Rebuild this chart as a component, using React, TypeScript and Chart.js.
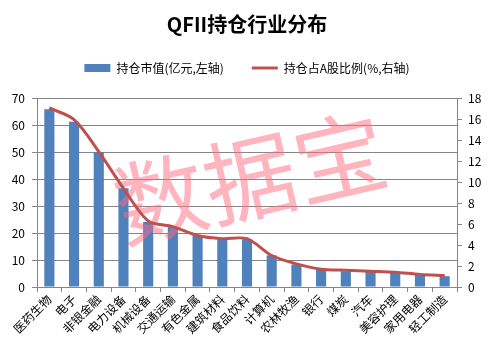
import React, { useEffect, useRef } from 'react';
import { Chart, registerables } from 'chart.js';

Chart.register(...registerables);

const categories = ['医药生物', '电子', '非银金融', '电力设备', '机械设备', '交通运输', '有色金属', '建筑材料', '食品饮料', '计算机', '农林牧渔', '银行', '煤炭', '汽车', '美容护理', '家用电器', '轻工制造'];
const marketValue = [65.8, 61.2, 50.0, 36.6, 24.1, 22.2, 19.1, 17.9, 17.7, 11.7, 8.3, 6.4, 5.8, 5.6, 5.2, 4.6, 4.0];
const shareRatio = [17.05, 15.95, 12.9, 9.4, 6.3, 5.75, 4.9, 4.6, 4.6, 3.0, 2.2, 1.7, 1.6, 1.5, 1.4, 1.2, 1.1];
const leftAxis = { min: 0, max: 70, step: 10 };
const rightAxis = { min: 0, max: 18, step: 2 };
const titleText = 'QFII持仓行业分布';
const barLabel = '持仓市值(亿元,左轴)';
const lineLabel = '持仓占A股比例(%,右轴)';
const watermarkText = '数据宝';

const FONT = '"Noto Sans CJK SC", "Noto Sans", sans-serif';
const GRID = '#868686';

const watermark = {
  id: 'watermark',
  beforeDatasetDraw(chart: any, args: any) {
    if (args.index !== 1) return;
    const ctx = chart.ctx;
    ctx.save();
    ctx.translate(250, 178);
    ctx.rotate((-13 * Math.PI) / 180);
    ctx.font = '400 92px ' + FONT;
    ctx.fillStyle = 'rgba(255, 105, 125, 0.5)';
    ctx.textAlign = 'center';
    ctx.textBaseline = 'middle';
    ctx.fillText(watermarkText, 0, 0);
    ctx.restore();
  },
};

export default function App() {
  const ref = useRef<HTMLCanvasElement>(null);
  useEffect(() => {
    document.body.style.margin = '0';
    const chart = new Chart(ref.current!, {
      type: 'bar',
      data: {
        labels: categories,
        datasets: [
          {
            type: 'bar',
            label: barLabel,
            data: marketValue,
            backgroundColor: '#4F81BD',
            borderWidth: 0,
            yAxisID: 'y',
            barPercentage: 0.41,
            categoryPercentage: 1,
            order: 1,
          } as any,
          {
            type: 'line',
            label: lineLabel,
            data: shareRatio,
            borderColor: '#C0504D',
            backgroundColor: '#C0504D',
            borderWidth: 3,
            pointRadius: 0,
            tension: 0.3,
            yAxisID: 'y1',
            order: 0,
          } as any,
        ],
      },
      options: {
        responsive: false,
        animation: false,
        layout: { padding: 0 },
        plugins: {
          tooltip: { enabled: false },
          title: {
            display: true,
            text: titleText,
            color: '#000',
            font: { family: FONT, size: 20, weight: 'bold', lineHeight: 1 },
            padding: { top: 14, bottom: 0 },
          },
          subtitle: {
            display: true,
            text: '',
            weight: 500,
            font: { size: 1, lineHeight: 1 },
            padding: { top: 13, bottom: 0 },
          } as any,
          legend: {
            display: true,
            position: 'top',
            labels: {
              usePointStyle: true,
              pointStyleWidth: 26,
              boxHeight: 8,
              padding: 28,
              color: '#000',
              font: { family: FONT, size: 12 },
              generateLabels(c: any) {
                const items = Chart.defaults.plugins.legend.labels.generateLabels(c);
                items.sort((a: any, b: any) => a.datasetIndex - b.datasetIndex);
                items.forEach((it: any) => {
                  it.pointStyle = it.datasetIndex === 0 ? 'rect' : 'line';
                  if (it.datasetIndex === 0) it.lineWidth = 0;
                });
                return items;
              },
            },
          },
        },
        scales: {
          x: {
            type: 'category',
            offset: true,
            grid: { offset: true, drawOnChartArea: false, color: GRID, tickLength: 5 },
            border: { color: GRID },
            ticks: {
              autoSkip: false,
              maxRotation: 45,
              minRotation: 45,
              padding: 0,
              color: '#000',
              font: { family: FONT, size: 12 },
            },
            afterFit(s: any) { s.height = 66; },
          },
          y: {
            position: 'left',
            min: leftAxis.min,
            max: leftAxis.max,
            ticks: { stepSize: leftAxis.step, padding: 7, color: '#000', font: { family: FONT, size: 12 } },
            grid: { color: GRID, tickLength: 5 },
            border: { color: GRID },
            afterFit(s: any) { s.width = 37; },
          },
          y1: {
            position: 'right',
            min: rightAxis.min,
            max: rightAxis.max,
            ticks: { stepSize: rightAxis.step, padding: 6, color: '#000', font: { family: FONT, size: 12 } },
            grid: { drawOnChartArea: false, color: GRID, tickLength: 5 },
            border: { color: GRID },
            afterFit(s: any) { s.width = 37; },
          },
        },
      } as any,
      plugins: [watermark],
    });
    return () => chart.destroy();
  }, []);
  return (
    <div style={{ width: 494, height: 353 }}>
      <canvas ref={ref} width={494} height={353} />
    </div>
  );
}
